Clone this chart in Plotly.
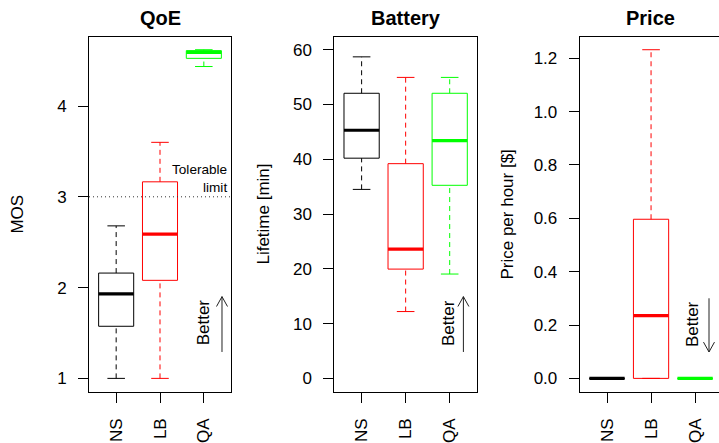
import plotly.graph_objects as go

W, H = 719, 443

groups = ["NS", "LB", "QA"]
colors = ["#000000", "#FF0000", "#00FF00"]

# box statistics: [lower whisker, Q1, median, Q3, upper whisker]
qoe_NS = [1.00, 1.574, 1.93, 2.16, 2.68]
qoe_LB = [1.00, 2.08, 2.59, 3.165, 3.60]
qoe_QA = [4.435, 4.525, 4.59, 4.61, 4.62]

bat_NS = [34.5, 40.2, 45.3, 52.05, 58.7]
bat_LB = [12.2, 19.95, 23.6, 39.2, 54.95]
bat_QA = [19.05, 35.25, 43.4, 52.05, 54.95]

price_NS = [0.0, 0.0, 0.0, 0.0, 0.0]
price_LB = [0.0, 0.0, 0.235, 0.5965, 1.232]
price_QA = [0.0, 0.0, 0.0, 0.0, 0.0]

qoe_ticks = [1, 2, 3, 4]
bat_ticks = [0, 10, 20, 30, 40, 50, 60]
price_ticks = [0.0, 0.2, 0.4, 0.6, 0.8, 1.0, 1.2]
tolerable_limit = 3

titles = ["QoE", "Battery", "Price"]
ylabels = ["MOS", "Lifetime [min]", "Price per hour [$]"]

FONT = "Liberation Sans, Arial, Helvetica, sans-serif"

fig = go.Figure()

def add_box(stats, pos, color, xa, ya):
    lo, q1, med, q3, hi = stats
    bw, cw = 0.4, 0.2
    dash = "5px,4px"
    common = dict(mode="lines", xaxis=xa, yaxis=ya, showlegend=False, hoverinfo="skip")
    # whiskers
    if hi > q3:
        fig.add_trace(go.Scatter(x=[pos, pos], y=[q3, hi], line=dict(color=color, width=1, dash=dash), **common))
    if q1 > lo:
        fig.add_trace(go.Scatter(x=[pos, pos], y=[lo, q1], line=dict(color=color, width=1, dash=dash), **common))
    # staples
    for v in (lo, hi):
        fig.add_trace(go.Scatter(x=[pos - cw, pos + cw], y=[v, v], line=dict(color=color, width=1), **common))
    # box
    fig.add_trace(go.Scatter(x=[pos - bw, pos + bw, pos + bw, pos - bw, pos - bw],
                             y=[q1, q1, q3, q3, q1], line=dict(color=color, width=1), **common))
    # median
    fig.add_trace(go.Scatter(x=[pos - bw, pos + bw], y=[med, med], line=dict(color=color, width=3.2), **common))

panels = [
    [qoe_NS, qoe_LB, qoe_QA],
    [bat_NS, bat_LB, bat_QA],
    [price_NS, price_LB, price_QA],
]

def rng(vals):
    lo, hi = min(vals), max(vals)
    d = (hi - lo) * 0.04
    return [lo - d, hi + d]

yranges = [
    rng([v for s in panels[0] for v in s]),
    rng([0, 60]),
    rng([v for s in panels[2] for v in s]),
]

# pixel layout of the three plot boxes
px_left = [89, 334.3, 579.7]
px_right = [231, 477, 719]
px_top, px_bot = 37, 396
unit = (477 - 334.3) / 3.24
xranges = [[0.38, 3.62], [0.38, 3.62], [0.38, 0.38 + (719 - 579.7) / unit]]

tickvals_list = [qoe_ticks, bat_ticks, price_ticks]
ticktext_list = [[str(t) for t in qoe_ticks], [str(t) for t in bat_ticks], ["%.1f" % t for t in price_ticks]]

for i in range(3):
    xa = "x" if i == 0 else "x%d" % (i + 1)
    ya = "y" if i == 0 else "y%d" % (i + 1)
    for j, g in enumerate(groups):
        add_box(panels[i][j], j + 1, colors[j], xa, ya)
    xkey = "xaxis" if i == 0 else "xaxis%d" % (i + 1)
    ykey = "yaxis" if i == 0 else "yaxis%d" % (i + 1)
    fig.update_layout(**{
        xkey: dict(domain=[px_left[i] / W, px_right[i] / W], range=xranges[i], anchor=ya,
                   showgrid=False, zeroline=False, showline=True, linecolor="black", linewidth=1,
                   mirror=True, ticks="outside", ticklen=10, tickcolor="black", tickwidth=1,
                   tickvals=[1, 2, 3], ticktext=groups, tickangle=-90, ticklabelstandoff=9,
                   tickfont=dict(family=FONT, size=17, color="black"), fixedrange=True),
        ykey: dict(domain=[1 - px_bot / H, 1 - px_top / H], range=yranges[i], anchor=xa,
                   showgrid=False, zeroline=False, showline=True, linecolor="black", linewidth=1,
                   mirror=(i < 2), ticks="outside", ticklen=10, tickcolor="black", tickwidth=1,
                   tickvals=tickvals_list[i], ticktext=ticktext_list[i], ticklabelstandoff=8,
                   tickfont=dict(family=FONT, size=17, color="black"), fixedrange=True),
    })

# tolerable limit dotted line
fig.add_shape(type="line", xref="x domain", yref="y", x0=0, x1=1, y0=tolerable_limit, y1=tolerable_limit,
              line=dict(color="#333333", width=1, dash="1px,3px"))

def X(px):
    return px / W

def Y(py):
    return 1 - py / H

ann = []
# panel titles
title_cx = [(px_left[0] + px_right[0]) / 2, (px_left[1] + px_right[1]) / 2, 650]
for i in range(3):
    ann.append(dict(text="<b>%s</b>" % titles[i], x=X(title_cx[i]), y=Y(18), xref="paper", yref="paper",
                    xanchor="center", yanchor="middle", showarrow=False,
                    font=dict(family=FONT, size=20, color="black")))
# y-axis titles
ylab_x = [18, 264, 508]
for i in range(3):
    ann.append(dict(text=ylabels[i], x=X(ylab_x[i]), y=Y(217), xref="paper", yref="paper", textangle=-90,
                    xanchor="center", yanchor="middle", showarrow=False,
                    font=dict(family=FONT, size=17, color="black")))
# tolerable limit text
ann.append(dict(text="Tolerable<br>limit", x=X(229), y=Y(181), xref="paper", yref="paper",
                xanchor="right", yanchor="middle", align="right", showarrow=False,
                font=dict(family=FONT, size=13.6, color="black")))
# "Better" labels
better_pos = [(203, 326), (448.7, 327), (693.3, 327.5)]
for (bx, by) in better_pos:
    ann.append(dict(text="Better", x=X(bx), y=Y(by), xref="paper", yref="paper", textangle=-90,
                    xanchor="center", yanchor="middle", showarrow=False,
                    font=dict(family=FONT, size=17, color="black")))
fig.update_layout(annotations=ann)

# arrows (shaft + open V head)
arrows = [(222, 356, 300), (463.4, 356, 300), (709, 301.7, 356)]
for (ax, ytail, ytip) in arrows:
    s = 1 if ytip > ytail else -1
    path = "M %f %f L %f %f M %f %f L %f %f L %f %f" % (
        X(ax), Y(ytail), X(ax), Y(ytip),
        X(ax - 5.5), Y(ytip - s * 10), X(ax), Y(ytip), X(ax + 5.5), Y(ytip - s * 10))
    fig.add_shape(type="path", xref="paper", yref="paper", path=path,
                  line=dict(color="#222222", width=1))

fig.update_layout(width=W, height=H, margin=dict(l=0, r=0, t=0, b=0),
                  paper_bgcolor="white", plot_bgcolor="white", showlegend=False)

fig.write_html("out.html", config={"displayModeBar": False},
               post_script="document.body.style.margin='0px';document.body.style.overflow='hidden';")
